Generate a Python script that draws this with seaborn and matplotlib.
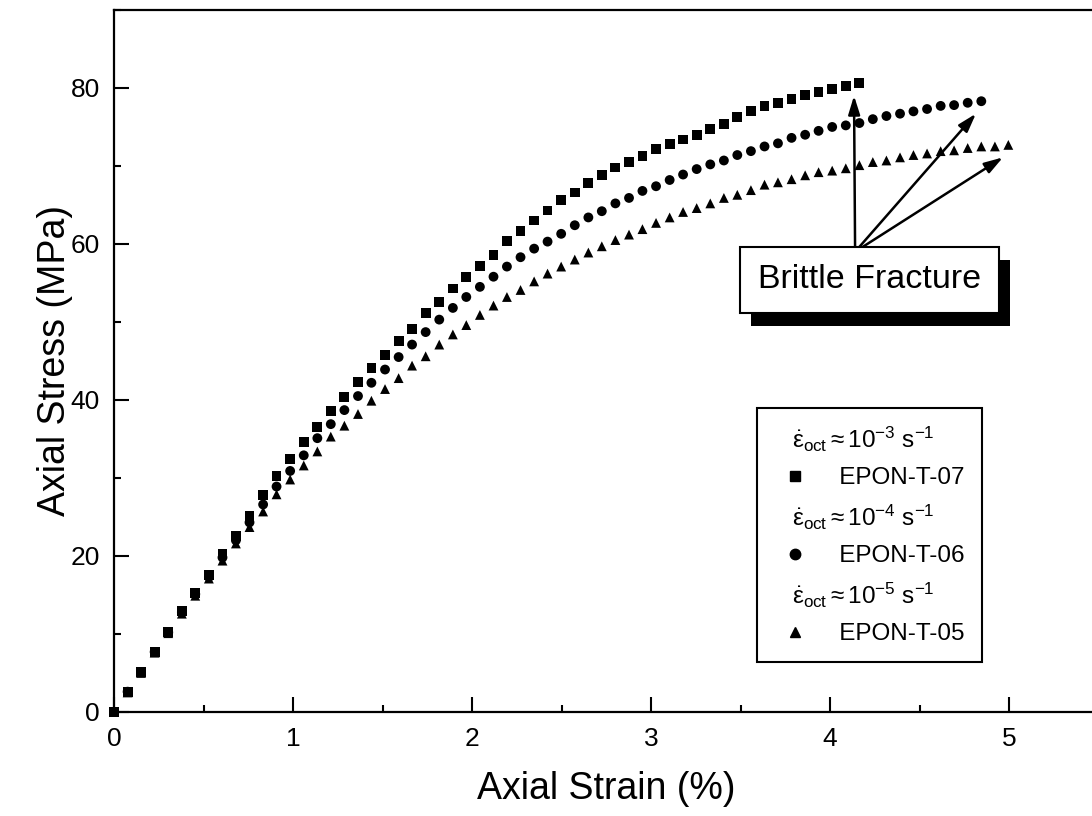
import pandas as pd
import seaborn as sns
import matplotlib.pyplot as plt
import matplotlib.patheffects as pe
from matplotlib import ticker
from matplotlib.lines import Line2D

# deformacao axial (%) - passo constante do ensaio
strain = [0.000, 0.076, 0.151, 0.227, 0.303, 0.379, 0.454, 0.530, 0.606, 0.681,
          0.757, 0.833, 0.908, 0.984, 1.060, 1.136, 1.211, 1.287, 1.363, 1.438,
          1.514, 1.590, 1.665, 1.741, 1.817, 1.893, 1.968, 2.044, 2.120, 2.195,
          2.271, 2.347, 2.422, 2.498, 2.574, 2.650, 2.725, 2.801, 2.877, 2.952,
          3.028, 3.104, 3.179, 3.255, 3.331, 3.407, 3.482, 3.558, 3.634, 3.709,
          3.785, 3.861, 3.936, 4.012, 4.088, 4.164, 4.239, 4.315, 4.391, 4.466,
          4.542, 4.618, 4.693, 4.769, 4.845, 4.921, 4.996]

# tensao axial (MPa) de cada corpo de prova
stress_t07 = [0, 2.6, 5.1, 7.7, 10.3, 12.9, 15.3, 17.6, 20.2, 22.6,
              25.1, 27.8, 30.2, 32.4, 34.6, 36.5, 38.6, 40.4, 42.3, 44.1,
              45.8, 47.6, 49.1, 51.1, 52.6, 54.3, 55.8, 57.2, 58.6, 60.4,
              61.7, 63.0, 64.3, 65.6, 66.6, 67.8, 68.8, 69.8, 70.5, 71.3,
              72.2, 72.8, 73.4, 74.0, 74.7, 75.4, 76.3, 77.0, 77.7, 78.1,
              78.6, 79.1, 79.5, 79.9, 80.3, 80.6]
stress_t06 = [0, 2.6, 5.1, 7.7, 10.2, 12.8, 15.1, 17.3, 19.8, 22.0,
              24.3, 26.6, 28.9, 30.9, 32.9, 35.1, 36.9, 38.7, 40.5, 42.2,
              43.9, 45.5, 47.1, 48.7, 50.3, 51.8, 53.2, 54.5, 55.8, 57.1,
              58.3, 59.4, 60.3, 61.3, 62.4, 63.4, 64.2, 65.2, 65.9, 66.8,
              67.4, 68.2, 68.9, 69.6, 70.2, 70.7, 71.4, 71.9, 72.5, 72.9,
              73.6, 74.0, 74.5, 75.0, 75.2, 75.5, 76.0, 76.4, 76.7, 77.0,
              77.3, 77.7, 77.8, 78.1, 78.3]
stress_t05 = [0, 2.5, 5.0, 7.6, 10.1, 12.6, 14.9, 17.1, 19.4, 21.6,
              23.7, 25.7, 27.9, 29.8, 31.6, 33.4, 35.3, 36.7, 38.2, 39.9,
              41.4, 42.8, 44.4, 45.6, 47.1, 48.4, 49.6, 50.9, 52.1, 53.2,
              54.1, 55.2, 56.2, 57.1, 58.0, 58.9, 59.7, 60.5, 61.2, 61.9,
              62.7, 63.4, 64.1, 64.6, 65.2, 65.9, 66.3, 66.9, 67.6, 67.9,
              68.3, 68.8, 69.2, 69.4, 69.7, 70.1, 70.5, 70.7, 71.1, 71.4,
              71.6, 71.9, 72.0, 72.3, 72.5, 72.5, 72.7]

specimens = ['EPON-T-07', 'EPON-T-06', 'EPON-T-05']
rates = ['-3', '-4', '-5']
marcadores = {'EPON-T-07': 's', 'EPON-T-06': 'o', 'EPON-T-05': '^'}

series = [stress_t07, stress_t06, stress_t05]
dados = pd.concat([pd.DataFrame({'Strain': strain[:len(v)], 'Stress': v, 'Specimen': nome})
                   for nome, v in zip(specimens, series)], ignore_index=True)

sns.set_style('ticks')
plt.rcParams['font.family'] = ['Liberation Sans', 'DejaVu Sans']
plt.rcParams['mathtext.fontset'] = 'custom'
plt.rcParams['mathtext.rm'] = 'Liberation Sans'
plt.rcParams['mathtext.it'] = 'Liberation Sans:italic'
plt.rcParams['mathtext.bf'] = 'Liberation Sans:bold'
for chave in ['text.color', 'axes.labelcolor', 'xtick.color', 'ytick.color', 'axes.edgecolor']:
    plt.rcParams[chave] = 'black'

fig = plt.figure(figsize=(10.92, 8.16), dpi=100)
ax = fig.add_axes([0.1044, 0.1275, 0.9016, 0.8603])

sns.scatterplot(data=dados, x='Strain', y='Stress', style='Specimen', markers=marcadores,
                color='black', s=50, linewidth=0, legend=False, clip_on=False, ax=ax)

# eixos
ax.set_xlim(0, 5.5)
ax.set_ylim(0, 90)
ax.xaxis.set_major_locator(ticker.MultipleLocator(1))
ax.xaxis.set_minor_locator(ticker.MultipleLocator(0.5))
ax.yaxis.set_major_locator(ticker.MultipleLocator(20))
ax.yaxis.set_minor_locator(ticker.MultipleLocator(10))
ax.tick_params(which='both', direction='in', width=1.5, colors='black', labelsize=19)
ax.tick_params(which='major', length=10.5)
ax.tick_params(which='minor', length=5)
ax.tick_params(axis='x', pad=11)
ax.tick_params(axis='y', pad=10)
for lado in ['left', 'bottom', 'top']:
    ax.spines[lado].set_linewidth(1.6)
    ax.spines[lado].set_color('black')
ax.spines['right'].set_visible(False)

ax.set_xlabel('Axial Strain (%)', fontsize=27, color='black')
ax.set_ylabel('Axial Stress (MPa)', fontsize=27, color='black')
ax.xaxis.set_label_coords(0.5, -0.084)
ax.yaxis.set_label_coords(-0.042, 0.5)

# legenda com taxa de deformacao + marcador
handles, labels = [], []
for nome, rate in zip(specimens, rates):
    handles.append(Line2D([], [], linestyle='none'))
    labels.append(r'$\dot{\mathrm{\varepsilon}}_{\mathrm{oct}}\approx\mathrm{10^{%s}\ s^{-1}}$' % rate)
    handles.append(Line2D([], [], linestyle='none', marker=marcadores[nome], color='black', markersize=7.5))
    labels.append(' ' * 7 + nome)
leg = ax.legend(handles, labels, loc='upper left', bbox_to_anchor=(0.653, 0.433), borderaxespad=0,
                fontsize=17.5, handlelength=1.75, handletextpad=-1.0, labelspacing=0.55, borderpad=0.7,
                frameon=True, fancybox=False, edgecolor='black', framealpha=1)
leg.get_frame().set_linewidth(1.5)
for t in leg.get_texts():
    t.set_color('black')

# caixa "Brittle Fracture" com sombra e setas ate a ruptura
caixa = ax.text(4.22, 55.4, 'Brittle Fracture', fontsize=24.5, ha='center', va='center', zorder=6,
                bbox=dict(boxstyle='square,pad=0.52', fc='white', ec='black', lw=1.5))
caixa.get_bbox_patch().set_path_effects([pe.SimplePatchShadow(offset=(8, -9.5), shadow_rgbFace='black', alpha=1),
                                         pe.Normal()])
for v in series:
    ax.annotate('', xy=(strain[len(v) - 1] - 0.03, v[-1] - 1.6), xytext=(4.14, 59.0), zorder=5,
                arrowprops=dict(arrowstyle='-|>,head_length=0.8,head_width=0.25', mutation_scale=14,
                                color='black', lw=1.8, shrinkA=0, shrinkB=0))

fig.savefig('out.png', dpi=100)
